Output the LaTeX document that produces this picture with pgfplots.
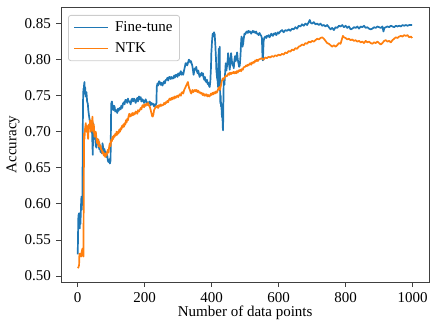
\documentclass[border=0pt]{standalone}
\usepackage{fontspec}
\setmainfont{Liberation Serif}
\usepackage{pgfplots}
\pgfplotsset{compat=1.18}
\definecolor{mplblue}{HTML}{1F77B4}
\definecolor{mplorange}{HTML}{FF7F0E}
\begin{document}
\fontsize{15pt}{18pt}\selectfont
\begin{tikzpicture}
\begin{axis}[
  name=ax,
  scale only axis,
  width=368.3pt, height=275pt,
  xmin=-50, xmax=1050,
  ymin=0.4917, ymax=0.873,
  xtick={0,200,400,600,800,1000},
  ytick={0.50,0.55,0.60,0.65,0.70,0.75,0.80,0.85},
  yticklabel style={/pgf/number format/.cd, fixed, fixed zerofill, precision=2},
  xticklabel style={/pgf/number format/.cd, set thousands separator={}},
  /pgf/number format/assume math mode=true,
  tick align=outside,
  major tick length=4.9pt,
  xtick pos=bottom, ytick pos=left,
  axis line style={black!75, line width=0.8pt},
  every tick/.style={black!75, line width=0.8pt},
  tick label style={font=\fontsize{15pt}{18pt}\selectfont},
  label style={font=\fontsize{15pt}{18pt}\selectfont},
  every axis x label/.style={at={(rel axis cs:0.5,0)}, yshift=-31pt, anchor=center},
  every axis y label/.style={at={(rel axis cs:0,0.5)}, xshift=-48pt, rotate=90, anchor=center},
  xlabel={Number of data points},
  ylabel={Accuracy},
  legend cell align=left,
  legend style={at={(0,1)}, anchor=north west, xshift=7pt, yshift=-8pt,
    draw=black!20, rounded corners=2.5pt, line width=0.8pt,
    font=\fontsize{15pt}{18pt}\selectfont,
    inner xsep=5pt, inner ysep=4pt, row sep=5pt,
    /tikz/every odd column/.append style={column sep=4pt}},
  legend image code/.code={\draw[#1, line width=1.7pt] (0pt,0pt) -- (34pt,0pt);},
]
\addplot[mplblue, line width=1.7pt, line join=round] coordinates {
(0,0.530) (1,0.560) (2,0.585) (3,0.575) (4,0.587) (5,0.570) (6,0.566) (7,0.580) (8,0.572) (9,0.585)
(10,0.600) (11,0.610) (12,0.592) (13,0.605) (14,0.600) (15,0.700) (16,0.745) (17,0.760) (18,0.752) (19,0.765)
(20,0.769) (21,0.758) (22,0.762) (24,0.749) (26,0.755) (28,0.742) (30,0.739) (32,0.728) (34,0.721) (36,0.715)
(38,0.705) (40,0.702) (42,0.712) (44,0.680) (45,0.668) (46,0.712) (48,0.700) (50,0.690) (52,0.693) (54,0.680)
(56,0.678) (58,0.690) (60,0.686) (62,0.689) (64,0.676) (66,0.682) (68,0.672) (70,0.675) (72,0.670) (74,0.684)
(76,0.678) (78,0.672) (80,0.676) (82,0.668) (84,0.672) (86,0.665) (88,0.668) (90,0.660) (92,0.658) (94,0.662)
(96,0.656) (98,0.660) (99,0.700) (100,0.739) (102,0.742) (104,0.735) (106,0.730) (108,0.736) (110,0.735) (112,0.728)
(115,0.730) (118,0.726) (120,0.732) (122,0.729) (125,0.733) (128,0.731) (130,0.736) (133,0.733) (135,0.739) (138,0.741)
(140,0.738) (142,0.744) (145,0.744) (148,0.740) (150,0.746) (152,0.742) (155,0.742) (158,0.738) (160,0.744) (163,0.746)
(165,0.742) (168,0.746) (170,0.744) (173,0.740) (175,0.744) (178,0.747) (180,0.742) (183,0.749) (185,0.745) (188,0.748)
(190,0.742) (193,0.745) (195,0.744) (198,0.740) (200,0.742) (203,0.745) (205,0.742) (208,0.738) (210,0.741) (213,0.739)
(215,0.742) (218,0.737) (220,0.740) (223,0.738) (225,0.739) (228,0.735) (230,0.738) (233,0.737) (235,0.740) (236,0.762)
(238,0.767) (240,0.764) (243,0.770) (245,0.769) (248,0.765) (250,0.768) (253,0.764) (255,0.767) (258,0.770) (260,0.767)
(263,0.772) (265,0.772) (268,0.775) (270,0.771) (273,0.776) (275,0.776) (278,0.773) (280,0.776) (283,0.774) (285,0.774)
(288,0.778) (290,0.775) (293,0.779) (295,0.779) (298,0.776) (300,0.781) (303,0.778) (305,0.781) (308,0.784) (310,0.779)
(313,0.782) (315,0.779) (318,0.786) (320,0.790) (322,0.795) (324,0.795) (327,0.792) (330,0.797) (332,0.800) (334,0.799)
(336,0.796) (338,0.798) (340,0.795) (342,0.792) (344,0.786) (346,0.779) (348,0.784) (350,0.788) (352,0.786) (354,0.790)
(356,0.784) (358,0.781) (360,0.785) (362,0.780) (364,0.776) (366,0.780) (368,0.778) (370,0.782) (372,0.778) (374,0.781)
(376,0.775) (378,0.772) (380,0.776) (382,0.770) (384,0.769) (386,0.772) (388,0.766) (390,0.768) (392,0.764) (394,0.762)
(396,0.770) (398,0.790) (399,0.809) (401,0.825) (403,0.836) (405,0.832) (407,0.838) (409,0.835) (411,0.820) (413,0.800)
(414,0.786) (416,0.775) (418,0.770) (419,0.762) (420,0.790) (421,0.815) (422,0.809) (423,0.800) (424,0.818) (425,0.760)
(426,0.739) (427,0.750) (428,0.735) (429,0.740) (430,0.726) (431,0.720) (432,0.730) (433,0.707) (434,0.702) (435,0.740)
(436,0.772) (438,0.765) (440,0.780) (442,0.795) (444,0.785) (446,0.792) (448,0.800) (449,0.809) (451,0.798) (453,0.790)
(454,0.786) (456,0.800) (458,0.809) (460,0.800) (462,0.792) (464,0.795) (466,0.788) (468,0.800) (470,0.805) (472,0.798)
(474,0.804) (476,0.810) (478,0.800) (480,0.795) (482,0.790) (484,0.792) (486,0.805) (488,0.825) (489,0.832) (491,0.828)
(492,0.818) (494,0.822) (496,0.830) (498,0.836) (500,0.835) (503,0.838) (505,0.839) (508,0.837) (510,0.840) (513,0.838)
(515,0.839) (518,0.836) (520,0.838) (523,0.840) (525,0.838) (528,0.839) (530,0.837) (533,0.839) (535,0.836) (538,0.836)
(540,0.834) (543,0.837) (545,0.835) (548,0.833) (550,0.830) (551,0.815) (552,0.800) (553,0.799) (554,0.810) (555,0.825)
(557,0.830) (560,0.832) (563,0.830) (565,0.833) (568,0.832) (570,0.834) (573,0.831) (575,0.833) (578,0.836) (580,0.834)
(583,0.833) (585,0.836) (588,0.835) (590,0.837) (593,0.834) (595,0.836) (598,0.838) (600,0.836) (605,0.839) (610,0.841)
(615,0.838) (620,0.841) (625,0.840) (630,0.842) (635,0.840) (640,0.843) (645,0.842) (650,0.845) (655,0.843) (660,0.847)
(665,0.846) (670,0.849) (675,0.847) (680,0.850) (685,0.848) (690,0.852) (693,0.855) (696,0.851) (700,0.850) (705,0.852)
(710,0.849) (715,0.850) (720,0.848) (725,0.850) (730,0.847) (735,0.848) (740,0.846) (745,0.848) (750,0.845) (755,0.842)
(760,0.844) (765,0.841) (770,0.845) (775,0.844) (780,0.847) (785,0.846) (790,0.848) (795,0.845) (800,0.847) (805,0.844)
(810,0.846) (815,0.842) (820,0.843) (825,0.845) (830,0.844) (835,0.846) (840,0.843) (845,0.846) (850,0.845) (855,0.847)
(860,0.844) (865,0.845) (870,0.843) (875,0.842) (880,0.843) (885,0.845) (890,0.844) (895,0.846) (900,0.845) (905,0.844)
(910,0.846) (913,0.839) (916,0.844) (920,0.845) (925,0.846) (930,0.845) (935,0.847) (940,0.846) (945,0.845) (950,0.847)
(955,0.846) (960,0.847) (965,0.846) (970,0.848) (975,0.847) (980,0.848) (985,0.847) (990,0.848) (995,0.848) (999,0.848)
};
\addlegendentry{Fine-tune}
\addplot[mplorange, line width=1.7pt, line join=round] coordinates {
(0,0.511) (2,0.512) (4,0.515) (5,0.531) (6,0.528) (8,0.531) (10,0.527) (12,0.534) (14,0.538) (16,0.528)
(17,0.527) (18,0.620) (19,0.698) (20,0.690) (22,0.705) (24,0.712) (26,0.700) (28,0.708) (29,0.702) (31,0.690)
(33,0.710) (35,0.705) (37,0.716) (39,0.700) (40,0.706) (42,0.712) (44,0.721) (46,0.700) (48,0.710) (50,0.693)
(52,0.700) (54,0.700) (56,0.690) (58,0.684) (60,0.690) (62,0.680) (64,0.686) (66,0.679) (68,0.681) (70,0.675)
(72,0.675) (74,0.670) (76,0.672) (78,0.667) (80,0.670) (82,0.665) (84,0.670) (86,0.667) (88,0.672) (90,0.675)
(92,0.671) (94,0.680) (96,0.684) (98,0.680) (100,0.689) (102,0.687) (104,0.693) (106,0.690) (108,0.695) (110,0.693)
(112,0.697) (114,0.695) (116,0.700) (118,0.696) (120,0.700) (122,0.698) (124,0.703) (126,0.700) (128,0.705) (130,0.703)
(132,0.708) (134,0.706) (136,0.710) (138,0.707) (140,0.712) (142,0.710) (144,0.716) (146,0.713) (148,0.718) (150,0.716)
(152,0.722) (154,0.725) (156,0.721) (158,0.724) (160,0.722) (163,0.726) (165,0.723) (168,0.726) (170,0.724) (173,0.728)
(175,0.727) (178,0.725) (180,0.730) (183,0.728) (185,0.730) (188,0.733) (190,0.731) (193,0.736) (195,0.737) (198,0.734)
(200,0.738) (203,0.736) (205,0.739) (208,0.737) (210,0.740) (213,0.736) (215,0.735) (218,0.730) (220,0.726) (222,0.722)
(224,0.721) (226,0.724) (228,0.730) (230,0.732) (233,0.735) (235,0.734) (238,0.736) (240,0.733) (243,0.737) (245,0.735)
(248,0.738) (250,0.736) (253,0.737) (255,0.737) (258,0.740) (260,0.738) (263,0.741) (265,0.740) (268,0.743) (270,0.741)
(273,0.745) (275,0.746) (278,0.744) (280,0.747) (283,0.745) (285,0.748) (288,0.746) (290,0.749) (293,0.747) (295,0.749)
(298,0.750) (300,0.748) (303,0.751) (305,0.752) (308,0.750) (310,0.754) (313,0.755) (315,0.753) (318,0.758) (320,0.760)
(323,0.763) (325,0.765) (327,0.767) (329,0.769) (331,0.764) (333,0.760) (335,0.758) (337,0.755) (339,0.753) (341,0.756)
(343,0.758) (345,0.755) (348,0.757) (350,0.758) (353,0.756) (355,0.758) (358,0.755) (360,0.757) (363,0.754) (365,0.755)
(368,0.753) (370,0.754) (373,0.751) (375,0.753) (378,0.750) (380,0.752) (383,0.750) (385,0.752) (388,0.749) (390,0.751)
(393,0.749) (395,0.750) (398,0.753) (400,0.751) (403,0.754) (405,0.752) (408,0.755) (410,0.753) (413,0.756) (415,0.754)
(418,0.757) (420,0.760) (423,0.762) (425,0.758) (428,0.765) (430,0.770) (433,0.774) (435,0.772) (438,0.775) (440,0.776)
(443,0.778) (445,0.777) (448,0.779) (450,0.781) (453,0.779) (455,0.782) (458,0.780) (460,0.782) (463,0.781) (465,0.783)
(468,0.781) (470,0.783) (473,0.781) (475,0.784) (478,0.782) (480,0.785) (483,0.784) (485,0.786) (488,0.784) (490,0.787)
(493,0.786) (495,0.789) (498,0.790) (500,0.790) (503,0.792) (505,0.791) (508,0.793) (510,0.792) (513,0.794) (515,0.795)
(518,0.793) (520,0.796) (523,0.795) (525,0.797) (528,0.796) (530,0.799) (533,0.798) (535,0.800) (538,0.798) (540,0.800)
(545,0.801) (550,0.802) (555,0.800) (560,0.803) (565,0.802) (570,0.804) (575,0.803) (580,0.805) (585,0.804) (590,0.806)
(595,0.805) (600,0.807) (605,0.806) (610,0.808) (615,0.807) (620,0.810) (625,0.809) (630,0.812) (635,0.811) (640,0.814)
(645,0.813) (650,0.816) (655,0.815) (660,0.818) (665,0.819) (670,0.821) (675,0.820) (680,0.823) (685,0.822) (690,0.825)
(695,0.824) (700,0.826) (705,0.825) (710,0.827) (715,0.829) (720,0.828) (725,0.830) (730,0.831) (735,0.829) (740,0.826)
(745,0.823) (750,0.822) (755,0.820) (760,0.818) (765,0.820) (770,0.818) (775,0.820) (780,0.823) (785,0.822) (790,0.830)
(792,0.833) (795,0.831) (800,0.830) (805,0.828) (810,0.829) (815,0.827) (820,0.828) (825,0.826) (830,0.827) (835,0.825)
(840,0.826) (845,0.824) (850,0.825) (855,0.823) (860,0.826) (865,0.824) (870,0.825) (875,0.823) (880,0.822) (885,0.824)
(890,0.823) (895,0.825) (900,0.823) (905,0.821) (910,0.823) (915,0.826) (920,0.827) (925,0.825) (930,0.826) (935,0.824)
(940,0.827) (945,0.829) (950,0.831) (955,0.830) (960,0.832) (965,0.833) (970,0.832) (975,0.834) (980,0.833) (985,0.834)
(990,0.831) (995,0.832) (999,0.830)
};
\addlegendentry{NTK}
\end{axis}
\pgfresetboundingbox
\useasboundingbox ([shift={(-61pt,-48pt)}]ax.south west) rectangle ([shift={(6.7pt,7pt)}]ax.north east);
\end{tikzpicture}
\end{document}
